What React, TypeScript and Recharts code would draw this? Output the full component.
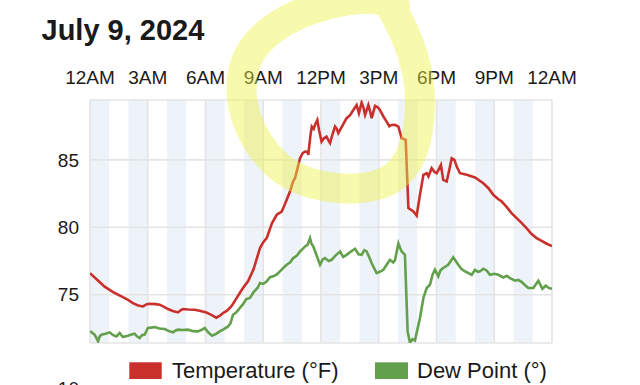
import React from 'react';
import { LineChart, Line, XAxis, YAxis, ReferenceArea, ReferenceLine } from 'recharts';

const FONT = '"Liberation Sans", Arial, Helvetica, sans-serif';

const title = 'July 9, 2024';
const tickHours = [0, 3, 6, 9, 12, 15, 18, 21, 24];
const tickLabels = ['12AM', '3AM', '6AM', '9AM', '12PM', '3PM', '6PM', '9PM', '12AM'];
const yTicks = [75, 80, 85];
const yDomain: [number, number] = [71.42, 89.44];
const bandStarts = [0, 2, 4, 6, 8, 10, 12, 14, 16, 18, 20, 22];

const tempHours = [
  0.0, 0.3, 0.76, 1.2, 1.63, 2.0, 2.23, 2.5, 2.75, 2.95, 3.1, 3.4, 3.62, 3.85, 4.05, 4.3, 4.57, 4.7, 4.83, 5.1,
  5.44, 5.75, 6.04, 6.3, 6.56, 6.75, 6.91, 7.1, 7.34, 7.55, 7.78, 8.0, 8.21, 8.5, 8.83, 9.0, 9.18, 9.45, 9.7, 9.96,
  10.15, 10.39, 10.55, 10.65, 10.8, 10.91, 11.05, 11.17, 11.3, 11.34, 11.45, 11.52, 11.62, 11.69, 11.81, 11.9, 12.03, 12.15, 12.29, 12.4,
  12.47, 12.6, 12.73, 12.82, 12.9, 13.1, 13.33, 13.5, 13.68, 13.85, 13.97, 14.11, 14.2, 14.29, 14.46, 14.55, 14.63, 14.81, 14.95, 15.06,
  15.25, 15.41, 15.55, 15.67, 15.84, 16.02, 16.19, 16.4, 16.54, 16.8, 16.97, 17.15, 17.32, 17.49, 17.58, 17.75, 17.9, 18.01, 18.23, 18.35,
  18.53, 18.7, 18.79, 18.93, 19.05, 19.22, 19.57, 20.0, 20.43, 20.7, 20.95, 21.2, 21.39, 21.65, 21.9, 22.15, 22.43, 22.7, 22.94, 23.2,
  23.46, 23.7, 24.0,
];
const tempValues = [
  76.6, 76.2, 75.6, 75.2, 74.87, 74.6, 74.38, 74.2, 74.13, 74.3, 74.33, 74.3, 74.26, 74.1, 73.94, 73.8, 73.69, 73.85, 73.94, 73.9,
  73.89, 73.8, 73.69, 73.5, 73.3, 73.45, 73.64, 73.8, 74.13, 74.6, 75.13, 75.6, 75.99, 76.9, 78.46, 78.9, 79.2, 80.3, 80.93, 81.17,
  81.8, 82.65, 83.4, 83.64, 84.5, 85.12, 85.5, 85.62, 85.6, 85.37, 86.8, 87.47, 87.3, 87.6, 87.96, 87.2, 86.36, 86.6, 86.73, 86.4,
  86.24, 86.9, 87.47, 87.3, 86.98, 87.5, 88.09, 88.3, 88.7, 89.07, 88.46, 89.25, 88.9, 88.33, 89.07, 88.6, 88.09, 89.0, 88.9, 88.7,
  88.2, 87.84, 87.5, 87.59, 87.6, 87.47, 86.6, 86.48, 81.42, 81.17, 80.87, 82.5, 83.89, 84.01, 83.77, 84.38, 84.1, 84.01, 84.63, 83.52,
  83.4, 84.5, 85.12, 85.0, 84.5, 84.01, 83.89, 83.69, 83.27, 82.9, 82.41, 82.1, 81.91, 81.5, 81.05, 80.7, 80.31, 79.9, 79.5, 79.2,
  79.0, 78.8, 78.6,
];

const dewHours = [
  0.0, 0.1, 0.24, 0.33, 0.42, 0.5, 0.59, 0.8, 1.02, 1.2, 1.37, 1.54, 1.71, 1.97, 2.15, 2.32, 2.45, 2.58, 2.7, 2.84,
  3.01, 3.36, 3.6, 3.88, 4.1, 4.31, 4.45, 4.57, 4.8, 5.09, 5.35, 5.61, 5.8, 5.96, 6.15, 6.34, 6.55, 6.74, 6.95, 7.17,
  7.3, 7.43, 7.6, 7.78, 7.95, 8.12, 8.31, 8.5, 8.7, 8.83, 9.0, 9.18, 9.35, 9.52, 9.7, 9.87, 10.05, 10.22, 10.4, 10.56,
  10.75, 10.91, 11.05, 11.17, 11.3, 11.43, 11.5, 11.6, 11.75, 11.95, 12.08, 12.21, 12.4, 12.55, 12.75, 12.99, 13.15, 13.33, 13.55, 13.77,
  13.95, 14.11, 14.25, 14.37, 14.5, 14.63, 14.75, 14.89, 15.05, 15.24, 15.4, 15.58, 15.75, 15.84, 16.02, 16.1, 16.19, 16.36, 16.5, 16.62,
  16.75, 16.88, 17.14, 17.32, 17.49, 17.66, 17.8, 17.92, 18.09, 18.2, 18.35, 18.61, 18.87, 19.0, 19.13, 19.3, 19.48, 19.83, 20.0, 20.15,
  20.26, 20.43, 20.6, 20.78, 21.0, 21.21, 21.47, 21.65, 21.82, 22.08, 22.25, 22.43, 22.6, 22.77, 23.03, 23.29, 23.5, 23.67, 23.85, 24.0,
];
const dewValues = [
  72.3, 72.2, 72.04, 71.8, 71.54, 71.9, 72.04, 72.1, 72.21, 72.0, 71.91, 72.16, 71.86, 71.96, 72.05, 72.11, 71.9, 71.79, 72.0, 72.04,
  72.53, 72.6, 72.5, 72.46, 72.3, 72.21, 72.35, 72.41, 72.38, 72.41, 72.3, 72.28, 72.4, 72.53, 72.2, 71.96, 72.1, 72.28, 72.45, 72.65,
  72.9, 73.52, 73.7, 74.01, 74.3, 74.68, 74.76, 75.2, 75.5, 75.87, 75.8, 75.99, 76.3, 76.36, 76.5, 76.73, 77.0, 77.22, 77.4, 77.72,
  77.9, 78.21, 78.4, 78.58, 78.7, 79.2, 78.8, 78.58, 78.0, 77.22, 77.6, 77.72, 77.5, 77.59, 77.9, 78.21, 77.8, 77.96, 78.2, 78.41,
  78.0, 77.96, 78.3, 78.21, 77.8, 77.35, 77.0, 76.6, 76.7, 76.85, 77.2, 77.59, 77.4, 77.55, 78.8, 78.5, 78.21, 77.96, 72.28, 71.45,
  71.7, 71.6, 73.27, 74.76, 75.5, 75.74, 76.5, 76.85, 76.36, 76.8, 76.98, 77.22, 77.77, 77.5, 77.22, 76.9, 76.73, 76.48, 76.85, 76.7,
  76.73, 76.93, 76.8, 76.48, 76.55, 76.48, 76.28, 76.4, 76.23, 76.04, 76.1, 75.94, 75.7, 75.5, 75.5, 76.04, 75.44, 75.67, 75.5, 75.44,
];

const tempData = tempHours.map((h, i) => ({ h, v: tempValues[i] }));
const dewData = dewHours.map((h, i) => ({ h, v: dewValues[i] }));

const RED = '#c9302c';
const GREEN = '#63a04c';
const GRID = '#e4e4e4';
const BAND = '#eef3fa';

export default function App() {
  return (
    <div style={{ position: 'absolute', left: 0, top: 0, width: 640, height: 385, background: '#fff', overflow: 'hidden', fontFamily: FONT }}>
      <LineChart width={640} height={385} margin={{ top: 70, right: 88, bottom: 42, left: 0 }}>
        <XAxis
          xAxisId={0}
          type="number"
          dataKey="h"
          orientation="top"
          domain={[0, 24]}
          ticks={tickHours}
          tickFormatter={(v: number) => tickLabels[tickHours.indexOf(v)]}
          height={30}
          axisLine={false}
          tickLine={false}
          tickSize={0}
          tickMargin={16}
          interval={0}
          tick={{ fill: '#1a1a1a', fontSize: 19, fontFamily: FONT }}
          allowDataOverflow
        />
        <YAxis
          yAxisId={0}
          type="number"
          domain={yDomain}
          ticks={yTicks}
          width={90}
          axisLine={false}
          tickLine={false}
          tickSize={0}
          tickMargin={11}
          interval={0}
          tick={{ fill: '#1a1a1a', fontSize: 19, fontFamily: FONT }}
          allowDataOverflow
        />
        {bandStarts.map((b) => (
          <ReferenceArea key={'band' + b} x1={b} x2={b + 1} y1={yDomain[0]} y2={yDomain[1]} fill={BAND} fillOpacity={1} stroke="none" />
        ))}
        {tickHours.map((h) => (
          <ReferenceLine key={'vx' + h} x={h} stroke={GRID} strokeWidth={1.6} />
        ))}
        {yTicks.concat(yDomain).map((y) => (
          <ReferenceLine key={'hy' + y} y={y} stroke={GRID} strokeWidth={1.6} />
        ))}
        <Line data={dewData} dataKey="v" type="linear" stroke={GREEN} strokeWidth={2.6} dot={false} isAnimationActive={false} />
        <Line data={tempData} dataKey="v" type="linear" stroke={RED} strokeWidth={2.6} dot={false} isAnimationActive={false} />
      </LineChart>
      <svg width={640} height={385} style={{ position: 'absolute', left: 0, top: 0, pointerEvents: 'none' }}>
        <text x={41.5} y={40} fontSize={29} fontWeight="bold" fill="#1a1a1a" fontFamily={FONT}>{title}</text>
        <rect x={129.3} y={362.3} width={32.4} height={16.7} fill={RED} />
        <text x={172} y={378.3} fontSize={22} fill="#1a1a1a" fontFamily={FONT}>Temperature (°F)</text>
        <rect x={375} y={362.3} width={33} height={16.7} fill={GREEN} />
        <text x={417} y={378.3} fontSize={22} fill="#1a1a1a" fontFamily={FONT}>Dew Point (°)</text>
        <text x={79} y={395} fontSize={19} textAnchor="end" fill="#1a1a1a" fontFamily={FONT}>10</text>
        <path
          d="M 388 2 C 402 25, 420 60, 420 100 C 420 145, 408 175, 380 184 C 350 194, 300 188, 274 162 C 248 136, 236 100, 244 68 C 252 38, 285 15, 330 4 C 355 -2, 380 -4, 395 6"
          fill="none"
          stroke="rgb(238,242,70)"
          strokeOpacity={0.45}
          strokeWidth={30}
          strokeLinecap="round"
          strokeLinejoin="round"
        />
      </svg>
    </div>
  );
}
